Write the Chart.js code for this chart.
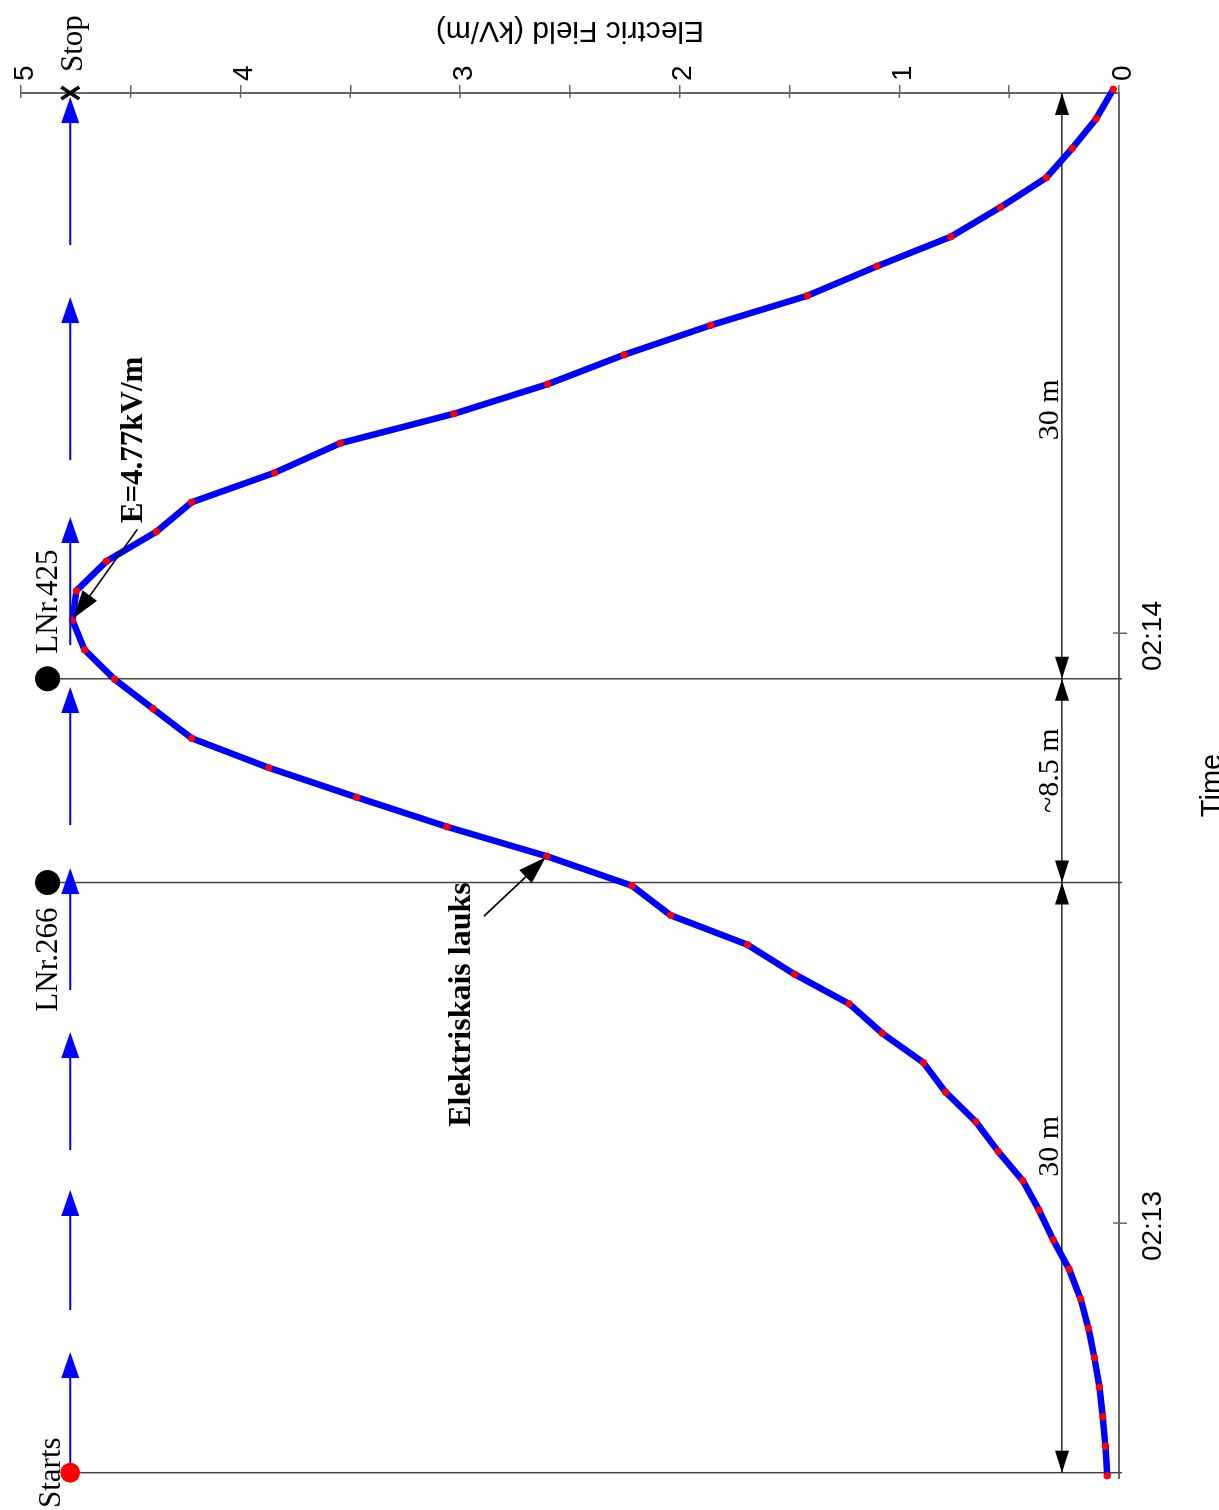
<!DOCTYPE html>
<html><head><meta charset="utf-8">
<script src="https://cdn.jsdelivr.net/npm/chart.js@4.4.1/dist/chart.umd.min.js"></script>
<style>
html,body{margin:0;padding:0;background:#fff;overflow:hidden;width:1219px;height:1510px;}
#wrap{position:absolute;left:0;top:0;width:1510px;height:1219px;transform-origin:0 0;transform:translate(0,1510px) rotate(-90deg);background:#fff;}
canvas{display:block;}
</style></head><body>
<div id="wrap"><canvas id="c" width="1510" height="1219"></canvas></div>
<script>
// time in seconds after 02:12:00
const times = [34.3,37.3,40.3,43.3,46.3,49.3,52.3,55.3,58.3,61.3,64.3,67.3,70.3,73.3,76.3,79.3,82.3,85.3,88.3,91.3,94.3,97.3,100.3,103.3,106.3,109.3,112.3,115.3,118.3,121.3,124.3,127.3,130.3,133.3,136.3,139.3,142.3,145.3,148.3,151.3,154.3,157.3,160.3,163.3,166.3,169.3,172.3,175.3];
// electric field, kV/m
const field = [0.054,0.062,0.074,0.089,0.112,0.139,0.175,0.227,0.300,0.364,0.438,0.551,0.652,0.789,0.890,1.078,1.229,1.477,1.691,2.042,2.217,2.605,3.060,3.471,3.871,4.222,4.398,4.573,4.710,4.765,4.747,4.610,4.383,4.222,3.845,3.546,3.028,2.602,2.253,1.859,1.419,1.102,0.766,0.540,0.331,0.213,0.104,0.026];
const timeTicks = [60,120];
const timeTickLabels = ['02:13','02:14'];
const timeRange = [34.07,174.92];
const fieldRange = [0,5];
// events along the route
const eventNames = ['Starts','LNr.266','LNr.425','Stop'];
const eventTimes = [34.61,94.63,115.35,174.92];
const routeField = 4.775;   // level of the route arrows
const poleField = 4.878;    // level of pole markers
// direction arrows along the route: tail / tip times
const arrowTails = [34.68,51.15,67.42,83.70,100.48,118.78,137.59,159.46];
const arrowTips  = [46.88,63.36,79.42,96.10,114.51,131.80,154.17,174.51];
// distance dimensions
const dimField = 0.26;
const dimBounds = [[174.92,115.35],[115.35,94.63],[94.63,34.61]];
const dimLabels = ['30 m','~8.5 m','30 m'];
const dimLabelTimes = [142.7,106.0,67.8];
// callouts
const peakLabel = 'E=4.77kV/m';
const peakIndex = 29;
const curveLabel = 'Elektriskais lauks';
const curveIndex = 21;

const pts = times.map((t,i)=>({x:t,y:field[i]}));
const SERIF = '"Liberation Serif","Times New Roman",serif';
const SANS = '"Liberation Sans",Arial,sans-serif';

function head(ctx,x1,y1,x2,y2,len,hw,color){
  const a=Math.atan2(y2-y1,x2-x1), c=Math.cos(a), s=Math.sin(a);
  ctx.beginPath();
  ctx.moveTo(x2,y2);
  ctx.lineTo(x2-len*c+hw*s, y2-len*s-hw*c);
  ctx.lineTo(x2-len*c-hw*s, y2-len*s+hw*c);
  ctx.closePath(); ctx.fillStyle=color; ctx.fill();
}

const annot = {
  id:'annot',
  beforeDatasetsDraw(chart){
    const ctx=chart.ctx, X=chart.scales.x, Y=chart.scales.y, ca=chart.chartArea;
    ctx.save();
    ctx.strokeStyle='#444'; ctx.lineWidth=1.5;
    for(let i=0;i<3;i++){
      const px=X.getPixelForValue(eventTimes[i]);
      const top = i===0 ? Y.getPixelForValue(routeField)+10 : Y.getPixelForValue(poleField)+12;
      ctx.beginPath(); ctx.moveTo(px,top); ctx.lineTo(px,ca.bottom+3); ctx.stroke();
    }
    const dy=Y.getPixelForValue(dimField);
    ctx.strokeStyle='#000'; ctx.lineWidth=1.2;
    dimBounds.forEach((b,i)=>{
      const a=X.getPixelForValue(b[0]), c=X.getPixelForValue(b[1]);
      ctx.beginPath(); ctx.moveTo(a,dy); ctx.lineTo(c,dy); ctx.stroke();
      head(ctx,c,dy,a,dy,22,7,'#000');
      head(ctx,a,dy,c,dy,22,7,'#000');
    });
    ctx.fillStyle='#000'; ctx.font='30px '+SERIF; ctx.textAlign='center'; ctx.textBaseline='alphabetic';
    dimLabels.forEach((l,i)=>{ ctx.fillText(l, X.getPixelForValue(dimLabelTimes[i]), dy-4); });
    ctx.restore();
  },
  afterDraw(chart){
    const ctx=chart.ctx, X=chart.scales.x, Y=chart.scales.y, ca=chart.chartArea;
    ctx.save();
    ctx.strokeStyle='#666'; ctx.lineWidth=1.5;
    Y.ticks.forEach(t=>{ const py=Y.getPixelForValue(t.value); ctx.beginPath(); ctx.moveTo(ca.right,py); ctx.lineTo(ca.right-5,py); ctx.stroke(); });
    X.ticks.forEach(t=>{ const px=X.getPixelForValue(t.value); ctx.beginPath(); ctx.moveTo(px,ca.bottom); ctx.lineTo(px,ca.bottom-6); ctx.stroke(); });
    ctx.fillStyle='#000'; ctx.font='29px '+SANS; ctx.textAlign='center'; ctx.textBaseline='alphabetic';
    ctx.fillText('Time',(ca.left+ca.right)/2,1221);
    ctx.save(); ctx.translate(1480,(ca.top+ca.bottom)/2); ctx.rotate(-Math.PI/2);
    ctx.textBaseline='middle'; ctx.font='30px '+SANS; ctx.fillText('Electric Field (kV/m)',0,0); ctx.restore();
    const ry=Y.getPixelForValue(routeField);
    ctx.strokeStyle='#0000ff'; ctx.lineWidth=2;
    arrowTails.forEach((t,i)=>{
      const a=X.getPixelForValue(t), b=X.getPixelForValue(arrowTips[i]);
      ctx.beginPath(); ctx.moveTo(a,ry); ctx.lineTo(b-20,ry); ctx.stroke();
      head(ctx,a,ry,b,ry,26,9,'#0000ff');
    });
    const sx=X.getPixelForValue(eventTimes[0]);
    ctx.beginPath(); ctx.arc(sx,ry,10,0,Math.PI*2); ctx.fillStyle='#ff0000'; ctx.fill();
    const py=Y.getPixelForValue(poleField);
    [1,2].forEach(i=>{ ctx.beginPath(); ctx.arc(X.getPixelForValue(eventTimes[i]),py,12.5,0,Math.PI*2); ctx.fillStyle='#000'; ctx.fill(); });
    const ex=X.getPixelForValue(eventTimes[3]);
    ctx.strokeStyle='#000'; ctx.lineWidth=3.5;
    ctx.beginPath(); ctx.moveTo(ex-6,ry-9); ctx.lineTo(ex+6,ry+9); ctx.moveTo(ex+6,ry-9); ctx.lineTo(ex-6,ry+9); ctx.stroke();
    ctx.fillStyle='#000'; ctx.font='31px '+SERIF; ctx.textBaseline='alphabetic';
    ctx.textAlign='center'; ctx.fillText(eventNames[0], sx, ry-10);
    ctx.textAlign='right'; ctx.fillText(eventNames[1], X.getPixelForValue(eventTimes[1])-25, py+9);
    ctx.textAlign='left'; ctx.fillText(eventNames[2], X.getPixelForValue(eventTimes[2])+25, py+9);
    ctx.textAlign='left'; ctx.fillText(eventNames[3], ex+21, ry+12);
    const pkx=X.getPixelForValue(times[peakIndex]), pky=Y.getPixelForValue(field[peakIndex]);
    const ptx=pkx+91, pty=pky+65;
    ctx.strokeStyle='#000'; ctx.lineWidth=1.6;
    ctx.beginPath(); ctx.moveTo(ptx,pty); ctx.lineTo(pkx+14,pky+10); ctx.stroke();
    head(ctx,ptx,pty,pkx+2,pky+1,28,9,'#000');
    ctx.font='bold 31px '+SERIF; ctx.textAlign='left';
    ctx.fillText(peakLabel, ptx+6, pty+5);
    const cx=X.getPixelForValue(times[curveIndex]), cy=Y.getPixelForValue(field[curveIndex]);
    const ctx0=cx-60, cty=cy-63;
    ctx.beginPath(); ctx.moveTo(ctx0,cty); ctx.lineTo(cx-12,cy-12); ctx.stroke();
    head(ctx,ctx0,cty,cx-1,cy-1,28,9,'#000');
    ctx.font='bold 32px '+SERIF; ctx.textAlign='right';
    ctx.fillText(curveLabel, ctx0+34, cty-14);
    ctx.restore();
  }
};

new Chart(document.getElementById('c'),{
  type:'line',
  data:{datasets:[
    {data:pts,order:1,borderColor:'#0000ff',borderWidth:6.5,pointRadius:0,tension:0,clip:false,borderJoinStyle:'round',borderCapStyle:'round'},
    {data:pts,order:0,showLine:false,pointRadius:3.6,pointBackgroundColor:'#ff0000',pointBorderWidth:0,clip:false}
  ]},
  options:{
    responsive:false,animation:false,devicePixelRatio:1,
    layout:{padding:{left:32,top:16,right:0,bottom:0}},
    plugins:{legend:{display:false},tooltip:{enabled:false}},
    scales:{
      x:{type:'linear',position:'bottom',min:timeRange[0],max:timeRange[1],
        afterBuildTicks:s=>{s.ticks=timeTicks.map(v=>({value:v}));},
        afterFit:s=>{s.height=100;},
        grid:{drawOnChartArea:false,tickLength:8,color:'#666',lineWidth:1.5},
        border:{display:true,color:'#666',width:2},
        ticks:{color:'#000',font:{family:SANS,size:28},padding:9,maxRotation:0,labelOffset:-3,
          callback:(v,i)=>timeTickLabels[i]}},
      y:{type:'linear',position:'right',min:fieldRange[0],max:fieldRange[1],
        afterFit:s=>{s.width=93;},
        grid:{drawOnChartArea:false,tickLength:8,color:'#666',lineWidth:1.5},
        border:{display:true,color:'#666',width:2},
        ticks:{stepSize:0.5,color:'#000',font:{family:SANS,size:28},padding:4,labelOffset:4,
          callback:v=>Number.isInteger(v)?String(v):''}}
    }
  },
  plugins:[annot]
});
</script></body></html>
